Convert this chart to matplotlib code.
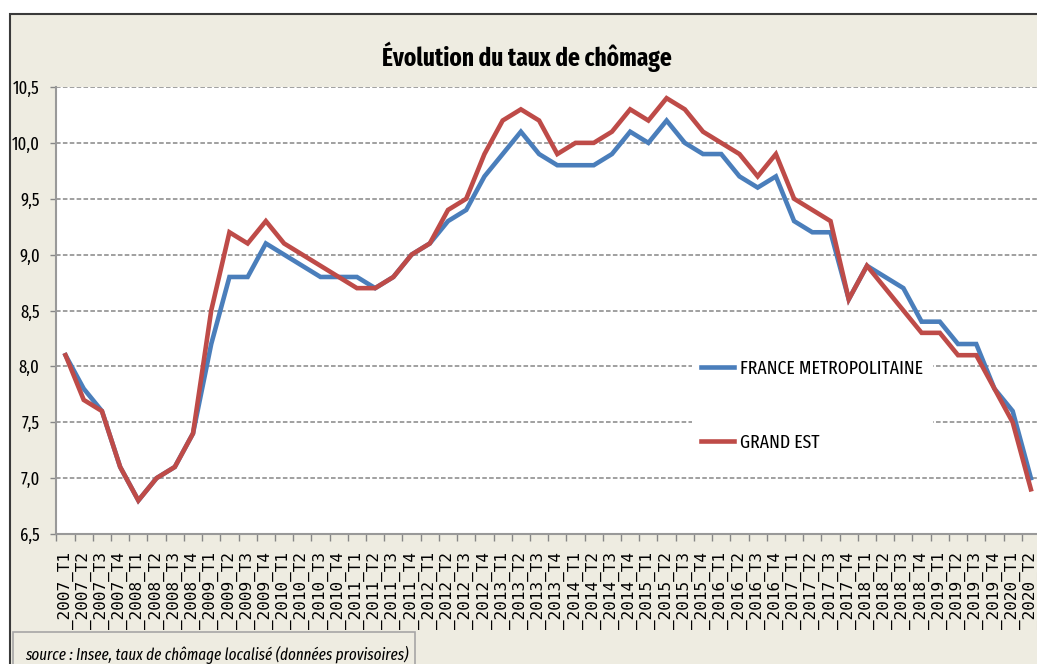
import matplotlib.pyplot as plt
from matplotlib.patches import Rectangle
import numpy as np

# quarters 2007_T1 .. 2020_T2
years = list(range(2007, 2021))
periods = ["_%d_T%d" % (y, q) for y in years for q in range(1, 5)][:54]

france = [8.1, 7.8, 7.6, 7.1, 6.8, 7.0, 7.1, 7.4,
          8.2, 8.8, 8.8, 9.1, 9.0, 8.9, 8.8, 8.8,
          8.8, 8.7, 8.8, 9.0, 9.1, 9.3, 9.4, 9.7,
          9.9, 10.1, 9.9, 9.8, 9.8, 9.8, 9.9, 10.1,
          10.0, 10.2, 10.0, 9.9, 9.9, 9.7, 9.6, 9.7,
          9.3, 9.2, 9.2, 8.6, 8.9, 8.8, 8.7, 8.4,
          8.4, 8.2, 8.2, 7.8, 7.6, 7.0]
grand_est = [8.1, 7.7, 7.6, 7.1, 6.8, 7.0, 7.1, 7.4,
             8.5, 9.2, 9.1, 9.3, 9.1, 9.0, 8.9, 8.8,
             8.7, 8.7, 8.8, 9.0, 9.1, 9.4, 9.5, 9.9,
             10.2, 10.3, 10.2, 9.9, 10.0, 10.0, 10.1, 10.3,
             10.2, 10.4, 10.3, 10.1, 10.0, 9.9, 9.7, 9.9,
             9.5, 9.4, 9.3, 8.6, 8.9, 8.7, 8.5, 8.3,
             8.3, 8.1, 8.1, 7.8, 7.5, 6.9]

yticks = [6.5, 7.0, 7.5, 8.0, 8.5, 9.0, 9.5, 10.0, 10.5]

narrow = ['Fira Sans Extra Condensed', 'DejaVu Sans']

BEIGE = '#EEECE1'
BLUE = '#4A7EBB'
RED = '#BE4B48'
GRID = '#868686'

W, H = 1037, 664
fig = plt.figure(figsize=(W / 100, H / 100), dpi=100)
fig.patch.set_facecolor('white')

# chart area background with dark frame
fig.patches.append(Rectangle((10 / W, -0.1), 1.2, 1.1 - 14 / H, transform=fig.transFigure,
                             facecolor=BEIGE, edgecolor='#3a3a3a', lw=1.5, zorder=-1))

x0, x1 = 56.4, 1040.0
y0, y1 = 87.0, 534.0
ax = fig.add_axes([x0 / W, 1 - y1 / H, (x1 - x0) / W, (y1 - y0) / H])
ax.set_facecolor('white')

x = np.arange(len(periods))
ax.plot(x, france, color=BLUE, lw=3.3, solid_joinstyle='miter', label='FRANCE METROPOLITAINE', zorder=3)
ax.plot(x, grand_est, color=RED, lw=3.3, solid_joinstyle='miter', label='GRAND EST', zorder=4)

ax.set_xlim(-0.5, len(periods) - 0.5)
ax.set_ylim(6.5, 10.5)
ax.set_yticks(yticks)
ax.set_yticklabels([("%.1f" % v).replace('.', ',') for v in yticks], family=narrow, fontsize=13)
ax.yaxis.grid(True, color=GRID, lw=1.1, linestyle=(0, (3, 1.5)))
ax.set_axisbelow(True)

ax.set_xticks(x)
ax.set_xticklabels(periods, rotation=90, family='DejaVu Sans Mono', fontsize=11.5, va='top')
ax.set_xticks(np.arange(len(periods) + 1) - 0.5, minor=True)
ax.tick_params(axis='x', which='major', length=0, pad=13)
ax.tick_params(axis='x', which='minor', length=5, color=GRID, width=1)
ax.tick_params(axis='y', length=4, color=GRID, width=1, pad=8)

for s in ['top', 'right']:
    ax.spines[s].set_visible(False)
for s in ['left', 'bottom']:
    ax.spines[s].set_color('#999999')
    ax.spines[s].set_linewidth(1.5)

leg = ax.legend(loc='center left', bbox_to_anchor=(0.646, 0.287), frameon=True,
                facecolor='white', edgecolor='none', fancybox=False, framealpha=1,
                prop={'family': narrow, 'size': 13.8}, handlelength=1.72, handletextpad=0.31,
                labelspacing=2.9, borderpad=0.5, borderaxespad=0)

fig.text(527 / W, 1 - 57 / H, 'Évolution du taux de chômage', ha='center', va='center',
         family=narrow, fontweight='bold', fontsize=18.2)

# source note box
fig.patches.append(Rectangle((13 / W, -0.1), 402 / W, 0.1 + (H - 632) / H, transform=fig.transFigure,
                             facecolor=BEIGE, edgecolor='#A6A6A6', lw=1.2, zorder=5))
fig.text(25 / W, 1 - 655 / H, 'source : Insee, taux de chômage localisé (données provisoires)',
         ha='left', va='center', family=narrow, fontstyle='italic', fontsize=11.8, zorder=6)

fig.savefig('out.png', dpi=100, facecolor=fig.get_facecolor())
